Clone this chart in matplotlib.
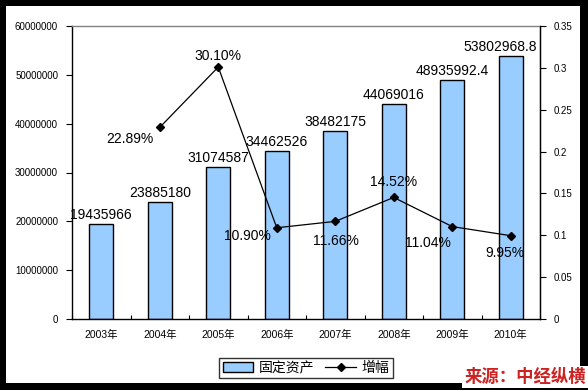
import matplotlib
matplotlib.use("Agg")
import matplotlib.pyplot as plt
from matplotlib.patches import Rectangle
from matplotlib.lines import Line2D
import numpy as np

plt.rcParams['font.family'] = ['Liberation Sans', 'Noto Sans CJK SC', 'DejaVu Sans']

years = ['2003年', '2004年', '2005年', '2006年', '2007年', '2008年', '2009年', '2010年']
assets = [19435966, 23885180, 31074587, 34462526, 38482175, 44069016, 48935992.4, 53802968.8]
asset_labels = ['19435966', '23885180', '31074587', '34462526', '38482175', '44069016',
                '48935992.4', '53802968.8']
growth = [np.nan, 0.2289, 0.3010, 0.1090, 0.1166, 0.1452, 0.1104, 0.0995]
growth_labels = ['', '22.89%', '30.10%', '10.90%', '11.66%', '14.52%', '11.04%', '9.95%']

W, H = 588, 390
PX = 0.72  # points per pixel at dpi 100
fig = plt.figure(figsize=(W / 100, H / 100), dpi=100)
fig.patch.set_facecolor('black')
# white inner panel
fig.patches.append(Rectangle((6 / W, 1 - 383 / H), (580 - 6) / W, (383 - 6) / H,
                             transform=fig.transFigure, facecolor='white',
                             edgecolor='none', zorder=-10))

ax = fig.add_axes([72 / W, 1 - 319 / H, (540 - 72) / W, (319 - 26) / H])
ax.set_facecolor('white')
x = np.arange(len(years))
bars = ax.bar(x, assets, width=0.41, color='#99CCFF', edgecolor='black', linewidth=1.0,
              label='固定资产', zorder=2)
ax.set_xlim(-0.5, len(years) - 0.5)
ax.set_ylim(0, 60000000)
ax.set_yticks(np.arange(0, 60000001, 10000000))
ax.set_yticklabels([f'{int(v)}' for v in np.arange(0, 60000001, 10000000)], fontsize=7)
ax.set_xticks(x)
ax.set_xticklabels(years, fontsize=7.5, family=['Liberation Sans', 'Noto Sans CJK SC'])
ax.set_xticks(np.arange(-0.5, len(years) - 0.4, 1), minor=True)
ax.tick_params(axis='x', which='major', length=0, pad=8)
ax.tick_params(axis='x', which='minor', direction='in', length=3, width=0.8)
ax.tick_params(axis='y', direction='out', length=4, width=0.8, pad=6)
for s in ['left', 'bottom', 'right']:
    ax.spines[s].set_color('black')
    ax.spines[s].set_linewidth(1.0)
ax.spines['top'].set_color('#808080')
ax.spines['top'].set_linewidth(1.0)

bar_dx = [0, 0, 0, 0, 0, 0, 0, -11]
for xi, v, lab, dx in zip(x, assets, asset_labels, bar_dx):
    ax.annotate(lab, (xi, v), xytext=(dx * PX, 9 * PX), textcoords='offset points',
                ha='center', va='center', fontsize=10, zorder=5)

ax2 = ax.twinx()
ax2.set_ylim(0, 0.35)
ax2.set_yticks(np.arange(0, 0.351, 0.05))
ax2.set_yticklabels(['0', '0.05', '0.1', '0.15', '0.2', '0.25', '0.3', '0.35'], fontsize=7)
ax2.tick_params(axis='y', direction='out', length=4, width=0.8, pad=6)
for s in ['left', 'bottom', 'top']:
    ax2.spines[s].set_visible(False)
ax2.spines['right'].set_color('black')
ax2.plot(x, growth, color='black', linewidth=0.9, marker='D', markersize=4.5,
         label='增幅', zorder=3)

# pixel offsets (dx right, dy down) for growth labels
offsets = [None, (-30, 12), (0, -11), (-29, 8), (1, 20), (0, -15), (-24, 16), (-6, 17)]
for xi, v, lab, off in zip(x, growth, growth_labels, offsets):
    if off is None:
        continue
    ax2.annotate(lab, (xi, v), xytext=(off[0] * PX, -off[1] * PX), textcoords='offset points',
                 ha='center', va='center', fontsize=10, zorder=6)

handles = [Rectangle((0, 0), 1, 1, facecolor='#99CCFF', edgecolor='black', linewidth=1.0),
           Line2D([0], [0], color='black', linewidth=0.9, marker='D', markersize=4.5)]
leg = fig.legend(handles, ['固定资产', '增幅'], loc='center',
                 bbox_to_anchor=(306 / W, 1 - 368 / H), ncol=2, frameon=True,
                 fancybox=False, edgecolor='black',
                 prop={'family': ['Noto Sans CJK SC'], 'size': 10},
                 handlelength=2.2, handletextpad=0.4, columnspacing=0.8,
                 borderpad=0.25, borderaxespad=0)
leg.get_frame().set_linewidth(1.0)

fig.text(586 / W, 1 - 377 / H, '来源：中经纵横', ha='right', va='center', color='#CC2222',
         fontsize=12.5, fontweight='bold', family=['Noto Sans CJK SC'],
         bbox=dict(facecolor='white', edgecolor='none', pad=1.5))

fig.savefig('out.png', dpi=100, facecolor=fig.get_facecolor())
